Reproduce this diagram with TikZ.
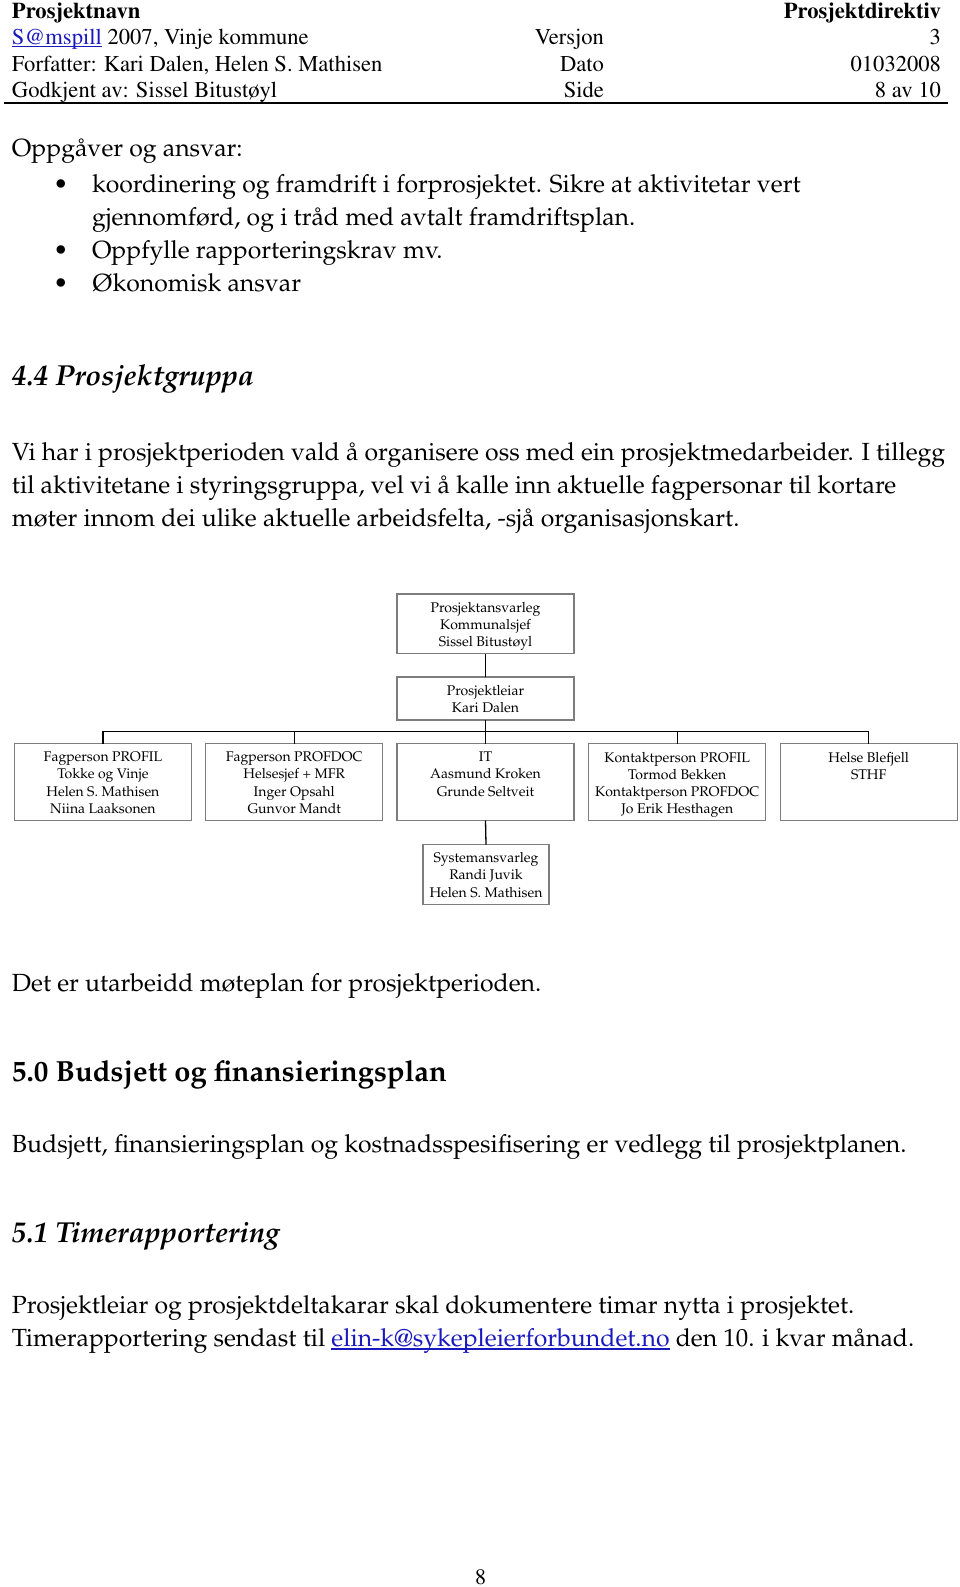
\documentclass[tikz,border=0pt]{standalone}
\usepackage[T1]{fontenc}
\usepackage{xcolor}
\definecolor{lnk}{RGB}{25,25,190}
\definecolor{boxgray}{RGB}{125,125,125}
\newcommand\palf[2]{\fontencoding{T1}\fontfamily{ppl}\fontsize{#1}{#2}\selectfont}
\newcommand\timf[2]{\fontencoding{T1}\fontfamily{ptm}\fontsize{#1}{#2}\selectfont}
\newcommand\lnkul[2]{\setbox0\hbox{#2}\rlap{\rule[-#1]{\wd0}{1.3pt}}\box0}
\tikzset{
  hdrtxt/.style={inner sep=0pt, outer sep=0pt, font=\timf{22.6}{26}},
  hdrbold/.style={inner sep=0pt, outer sep=0pt, font=\timf{22.6}{26}\bfseries},
  bodytxt/.style={inner sep=0pt, outer sep=0pt, anchor=base west, font=\palf{24.8}{33}},
  headit/.style={inner sep=0pt, outer sep=0pt, anchor=base west, font=\palf{28.9}{34}\bfseries\itshape},
  headbf/.style={inner sep=0pt, outer sep=0pt, anchor=base west, font=\palf{29.1}{34}\bfseries},
  orgbox/.style={draw=boxgray, line width=1.3pt, inner sep=0pt, outer sep=0pt, minimum width=177pt},
  orgtxt/.style={inner sep=0pt, outer sep=0pt, anchor=north, align=center, font=\palf{14}{17.2}},
  conn/.style={draw=black, line width=1.3pt}
}
\begin{document}
\begin{tikzpicture}[x=1pt,y=-1pt]
\useasboundingbox (0,0) rectangle (960,1587);
% header
\node[hdrbold, anchor=base west] (h1l) at (12,18.5) {Prosjektnavn};
\node[hdrbold, anchor=base east] (h1r) at (941,18.5) {Prosjektdirektiv};
\node[hdrtxt, anchor=base west] (h2l) at (12,44.8) {\textcolor{lnk}{\lnkul{2.6pt}{S@mspill}} 2007, Vinje kommune};
\node[hdrtxt, anchor=base east] (h2m) at (604,44.8) {Versjon};
\node[hdrtxt, anchor=base east] (h2r) at (941,44.8) {3};
\node[hdrtxt, anchor=base west] (h3l) at (12,71) {Forfatter: Kari Dalen, Helen S. Mathisen};
\node[hdrtxt, anchor=base east] (h3m) at (604,71) {Dato};
\node[hdrtxt, anchor=base east] (h3r) at (941,71) {01032008};
\node[hdrtxt, anchor=base west] (h4l) at (12,97.2) {Godkjent av: Sissel Bitust\o{}yl};
\node[hdrtxt, anchor=base east] (h4m) at (604,97.2) {Side};
\node[hdrtxt, anchor=base east] (h4r) at (941,97.2) {8 av 10};
\draw[line width=2pt] (4,102.5) -- (948,102.5);
% tasks
\node[bodytxt] (t0) at (12,156.5) {Oppg\aa{}ver og ansvar:};
\node[bodytxt, anchor=base] (b1) at (61,192) {\textbullet};
\node[bodytxt] (t1) at (92,192) {koordinering og framdrift i forprosjektet. Sikre at aktivitetar vert};
\node[bodytxt] (t1b) at (92,225) {gjennomf\o{}rd, og i tr\aa{}d med avtalt framdriftsplan.};
\node[bodytxt, anchor=base] (b2) at (61,258) {\textbullet};
\node[bodytxt] (t2) at (92,258) {Oppfylle rapporteringskrav mv.};
\node[bodytxt, anchor=base] (b3) at (61,291) {\textbullet};
\node[bodytxt] (t3) at (92,291) {\O{}konomisk ansvar};
% 4.4
\node[headit] (s44) at (12,385) {4.4 Prosjektgruppa};
\node[bodytxt] (p1) at (12,460) {Vi har i prosjektperioden vald \aa{} organisere oss med ein prosjektmedarbeider. I tillegg};
\node[bodytxt] (p2) at (12,493) {til aktivitetane i styringsgruppa, vel vi \aa{} kalle inn aktuelle fagpersonar til kortare};
\node[bodytxt] (p3) at (12,526) {m\o{}ter innom dei ulike aktuelle arbeidsfelta, -sj\aa{} organisasjonskart.};
% org chart
\node[orgbox, minimum height=59.5pt] (A) at (485.5,623.75) {};
\node[orgtxt] (tA) at ([yshift=-8pt]A.north) {Prosjektansvarleg\\Kommunalsjef\\Sissel Bitust\o{}yl};
\node[orgbox, minimum height=43pt] (B) at (485.5,698.5) {};
\node[orgtxt] (tB) at ([yshift=-8pt]B.north) {Prosjektleiar\\Kari Dalen};
\node[orgbox, minimum height=77pt] (r1) at (102.9,782) {};
\node[orgbox, minimum height=77pt] (r2) at (294.2,782) {};
\node[orgbox, minimum height=77pt] (r3) at (485.5,782) {};
\node[orgbox, minimum height=77pt] (r4) at (677.2,782) {};
\node[orgbox, minimum height=77pt] (r5) at (868.7,782) {};
\node[orgtxt] (t1x) at ([yshift=-8.5pt]r1.north) {Fagperson PROFIL\\Tokke og Vinje\\Helen S. Mathisen\\Niina Laaksonen};
\node[orgtxt] (t2x) at ([yshift=-8.5pt]r2.north) {Fagperson PROFDOC\\Helsesjef + MFR\\Inger Opsahl\\Gunvor Mandt};
\node[orgtxt] (t3x) at ([yshift=-8.5pt]r3.north) {IT\\Aasmund Kroken\\Grunde Seltveit};
\node[orgtxt] (t4x) at ([yshift=-8.5pt]r4.north) {Kontaktperson PROFIL\\Tormod Bekken\\Kontaktperson PROFDOC\\Jo Erik Hesthagen};
\node[orgtxt] (t5x) at ([yshift=-8.5pt]r5.north) {Helse Blefjell\\STHF};
\node[orgbox, minimum width=126pt, minimum height=60pt] (S) at (486,874.5) {};
\node[orgtxt] (tS) at ([yshift=-8pt]S.north) {Systemansvarleg\\Randi Juvik\\Helen S. Mathisen};
\coordinate (bus) at (0,731.5);
\draw[conn] (A.south) -- (B.north);
\draw[conn] (B.south) -- (B.south |- bus);
\draw[conn] (r1.north) -- (r1.north |- bus) -- (r5.north |- bus) -- (r5.north);
\draw[conn] (r2.north) -- (r2.north |- bus);
\draw[conn] (r3.north) -- (r3.north |- bus);
\draw[conn] (r4.north) -- (r4.north |- bus);
\draw[conn] (r3.south) -- (S.north);
% after chart
\node[bodytxt] (d1) at (12,991) {Det er utarbeidd m\o{}teplan for prosjektperioden.};
\node[headbf] (s50) at (12,1081) {5.0 Budsjett og finansieringsplan};
\node[bodytxt] (d2) at (12,1152) {Budsjett, finansieringsplan og kostnadsspesifisering er vedlegg til prosjektplanen.};
\node[headit] (s51) at (12,1242.5) {5.1 Timerapportering};
\node[bodytxt] (d3) at (12,1313) {Prosjektleiar og prosjektdeltakarar skal dokumentere timar nytta i prosjektet.};
\node[bodytxt] (d4) at (12,1346.5) {Timerapportering sendast til \textcolor{lnk}{\lnkul{3.2pt}{elin-k@sykepleierforbundet.no}} den 10. i kvar m\aa{}nad.};
\node[hdrtxt, anchor=base, font=\timf{22}{26}] (pg) at (480.5,1584.5) {8};
\end{tikzpicture}
\end{document}
